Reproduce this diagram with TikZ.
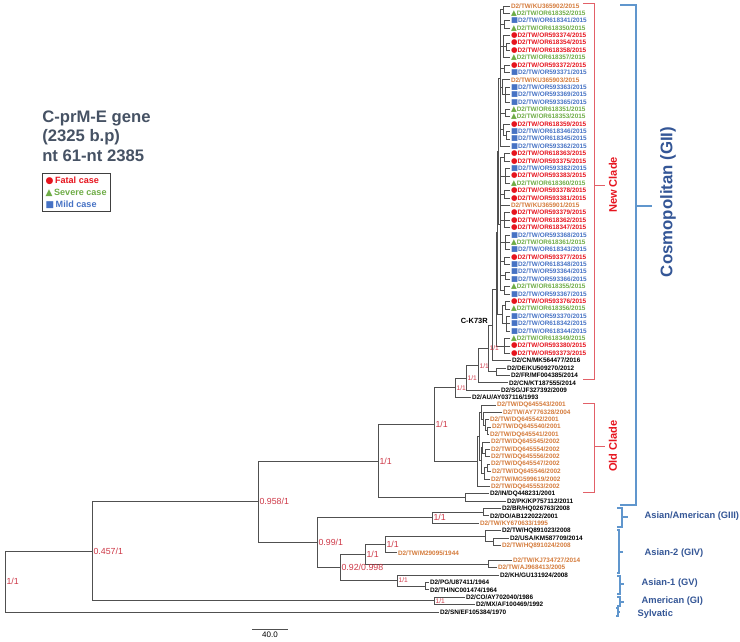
\documentclass[tikz,border=0pt]{standalone}
\usepackage{fontspec}
\setmainfont{Liberation Sans}
\newfontfamily\markfont{DejaVu Sans}
\usetikzlibrary{positioning}
\definecolor{branchgray}{RGB}{80,80,80}
\definecolor{suppred}{RGB}{205,55,70}
\definecolor{fatalred}{RGB}{230,20,30}
\definecolor{severegreen}{RGB}{110,172,70}
\definecolor{mildblue}{RGB}{70,114,196}
\definecolor{twbrown}{RGB}{212,122,58}
\definecolor{bracketred}{RGB}{226,96,104}
\definecolor{gtblue}{RGB}{52,86,150}
\definecolor{bracketblue}{RGB}{96,150,205}
\definecolor{titlegray}{RGB}{70,82,100}
\newcommand{\casemark}[1]{{\markfont\fontsize{5.6}{5}\selectfont#1}}
\tikzset{>=latex}

\begin{document}
\begin{tikzpicture}[x=0.75pt, y=-0.75pt,
		br/.style={draw=branchgray, line width=0.65pt},
		leaf/.style={anchor=west, inner sep=0pt, outer sep=0pt, xshift=0.8pt, font=\fontsize{4.8}{5}\selectfont\bfseries},
		blk/.style={leaf, text=black},
		tw/.style={leaf, text=twbrown},
		fatal/.style={leaf, text=fatalred, execute at begin node=\casemark{●}},
		severe/.style={leaf, text=severegreen, execute at begin node=\casemark{▲}},
		mild/.style={leaf, text=mildblue, execute at begin node=\casemark{■}},
		bsup/.style={anchor=west, inner sep=1pt, text=suppred, font=\fontsize{6.6}{7}\selectfont},
		ssup/.style={anchor=west, inner sep=1pt, text=suppred, font=\fontsize{5}{5}\selectfont},
		mut/.style={inner sep=0pt, font=\fontsize{5.6}{6}\selectfont\bfseries},
		gene/.style={inner sep=0pt, text=titlegray, text height=9pt, text depth=2.5pt, font=\fontsize{12.5}{14}\selectfont\bfseries},
		legendbox/.style={draw=black!75, line width=0.5pt, inner sep=2.5pt, align=left, font=\fontsize{6.8}{9}\selectfont\bfseries},
		redbracket/.style={draw=bracketred, line width=0.7pt},
		bluebracket/.style={draw=bracketblue, line width=1.3pt},
		nclade/.style={rotate=90, text=fatalred, font=\fontsize{8.3}{9}\selectfont\bfseries},
		gclade/.style={anchor=west, text=gtblue, font=\fontsize{7}{8}\selectfont\bfseries}
	]
	\useasboundingbox (0,0) rectangle (740,642);

	% tips of the new clade
	\foreach \i/\acc/\kind in {0/KU365902/tw, 1/OR618352/severe, 2/OR618341/mild, 3/OR618350/severe,
		4/OR593374/fatal, 5/OR618354/fatal, 6/OR618358/fatal, 7/OR618357/severe, 8/OR593372/fatal,
		9/OR593371/mild, 10/KU365903/tw, 11/OR593363/mild, 12/OR593369/mild, 13/OR593365/mild,
		14/OR618351/severe, 15/OR618353/severe, 16/OR618359/fatal, 17/OR618346/mild, 18/OR618345/mild,
		19/OR593362/mild, 20/OR618363/fatal, 21/OR593375/fatal, 22/OR593382/mild, 23/OR593383/fatal,
		24/OR618360/severe, 25/OR593378/fatal, 26/OR593381/fatal, 27/KU365901/tw, 28/OR593379/fatal,
		29/OR618362/fatal, 30/OR618347/fatal, 31/OR593368/mild, 32/OR618361/severe, 33/OR618343/mild,
		34/OR593377/fatal, 35/OR618348/mild, 36/OR593364/mild, 37/OR593366/mild, 38/OR618355/severe,
		39/OR593367/mild, 40/OR593376/fatal, 41/OR618356/severe, 42/OR593370/mild, 43/OR618342/mild,
		44/OR618344/mild, 45/OR618349/severe, 46/OR593380/fatal, 47/OR593373/fatal}{
		\coordinate (e\i) at (510,{6+7.39*\i});
		\node[\kind] (t\i) at (e\i) {D2/TW/\acc/2015};
	}

	% the other tips
	\foreach \i/\tx/\lab/\kind in {48/512/{D2/CN/MK564477/2016}/blk, 49/507/{D2/DE/KU509270/2012}/blk,
		50/511/{D2/FR/MF004385/2014}/blk, 51/509/{D2/CN/KT187555/2014}/blk, 52/501/{D2/SG/JF327392/2009}/blk,
		53/472/{D2/AU/AY037116/1993}/blk, 54/497/{D2/TW/DQ645543/2001}/tw, 55/503/{D2/TW/AY776328/2004}/tw,
		56/490/{D2/TW/DQ645542/2001}/tw, 57/492/{D2/TW/DQ645540/2001}/tw, 58/490/{D2/TW/DQ645541/2001}/tw,
		59/491/{D2/TW/DQ645545/2002}/tw, 60/491/{D2/TW/DQ645554/2002}/tw, 61/491/{D2/TW/DQ645556/2002}/tw,
		62/491/{D2/TW/DQ645547/2002}/tw, 63/492/{D2/TW/DQ645546/2002}/tw, 64/491/{D2/TW/MG599619/2002}/tw,
		65/491/{D2/TW/DQ645553/2002}/tw, 66/490/{D2/IN/DQ448231/2001}/blk, 67/507/{D2/PK/KP757112/2011}/blk,
		68/502/{D2/BR/HQ026763/2008}/blk, 69/490/{D2/DO/AB122022/2001}/blk, 70/480/{D2/TW/KY670633/1995}/tw,
		71/502/{D2/TW/HQ891023/2008}/blk, 72/510/{D2/USA/KM587709/2014}/blk, 73/502/{D2/TW/HQ891024/2008}/tw,
		74/398/{D2/TW/M29095/1944}/tw, 75/513/{D2/TW/KJ734727/2014}/tw, 76/498/{D2/TW/AJ968413/2005}/tw,
		77/500/{D2/KH/GU131924/2008}/blk, 78/430/{D2/PG/U87411/1964}/blk, 79/430/{D2/TH/NC001474/1964}/blk,
		80/466/{D2/CO/AY702040/1986}/blk, 81/476/{D2/MX/AF100469/1992}/blk, 82/440/{D2/SN/EF105384/1970}/blk}{
		\coordinate (e\i) at ({\tx-1},{6+7.39*\i});
		\node[\kind] (t\i) at (e\i) {\lab};
	}

	% internal nodes
	\foreach \n/\xx/\yy in {g1/503/9.7, g2/504/24.5, h3/506/46.6, g3/503/46.7, g4/504/68.8, h5/505/94.7,
		g5/502/87.3, g6/505/113.2, h7/506/135.3, g7/503/129.8, g9/504/157.5, g10/505/176.0, g11/504/194.5,
		g13/504/220.3, g14/505/242.5, g15/504/261.0, g16/505/275.7, g17/504/290.5, h18a/505/305.3,
		h18b/506/323.8, g18/502/314.6, g19/504/346.0, r1/500/78.05, r2/500/224.0, q/498.5/151.0,
		p/497.5/232.8, nc/496.5/289.4, mk/492/325.05, defr/496/371.8, cnx/488/348.4, cnkt/478/365.7,
		sg/466/378.0, au/455/387.9, o1d/487/430.9, o1c/485/425.4, o1b/483/419.0, o1/481/412.0,
		o2b/485/453.1, o2/482/447.6, o3a/487/467.9, o3/484/473.5, omid/481/460.6, otop/479/436.3,
		old/477/461.4, cosa/434/424.7, inpk/465/497.4, cosmo/378/461.1, brdo/483/512.2, asam/432/517.8,
		usa/493/541.8, hq/485/536.3, m29/385/544.6, kjaj/488/564.0, asia2/365/554.3, pgth/425/586.1,
		asia1/397/580.6, a12/340/567.4, asgrp/317/542.6, gii3/258/501.8, coam/434/600.9, aa/92/551.4,
		root/5/581.7}
		\coordinate (\n) at (\xx,\yy);

	% branches
	\foreach \up/\kids in {g1/{e0,e1}, g2/{e2,e3}, h3/{e5,e6}, g3/{e4,h3,e7}, g4/{e8,e9}, h5/{e11,e12,e13},
		g5/{e10,h5}, g6/{e14,e15}, h7/{e17,e18}, g7/{e16,h7}, g9/{e20,e21}, g10/{e22,e23,e24},
		g11/{e25,e26}, g13/{e28,e29,e30}, g14/{e31,e32,e33}, g15/{e34,e35}, g16/{e36,e37}, g17/{e38,e39},
		h18a/{e40,e41}, h18b/{e42,e43,e44}, g18/{h18a,h18b}, g19/{e45,e46,e47},
		r1/{g1,g2,g3,g4,g5,g6,g7,e19}, r2/{g9,g10,g11,e27,g13,g14,g15,g16,g17}, q/{r1,r2}, p/{q,g18},
		nc/{p,g19}, mk/{nc,e48}, defr/{e49,e50}, cnx/{mk,defr}, cnkt/{cnx,e51}, sg/{cnkt,e52}, au/{sg,e53},
		o1d/{e57,e58}, o1c/{e56,o1d}, o1b/{e55,o1c}, o1/{e54,o1b}, o2b/{e60,e61}, o2/{e59,o2b},
		o3a/{e62,e63}, o3/{o3a,e64}, omid/{o2,o3}, otop/{o1,omid}, old/{otop,e65}, cosa/{au,old},
		inpk/{e66,e67}, cosmo/{cosa,inpk}, brdo/{e68,e69}, asam/{brdo,e70}, usa/{e72,e73}, hq/{e71,usa},
		m29/{hq,e74}, kjaj/{e75,e76}, asia2/{m29,kjaj}, pgth/{e78,e79}, asia1/{e77,pgth},
		a12/{asia2,asia1}, asgrp/{asam,a12}, gii3/{cosmo,asgrp}, coam/{e80,e81}, aa/{gii3,coam},
		root/{aa,e82}}
		\foreach \kid in \kids
			\draw[br] (\up) |- (\kid);

	% support values
	\foreach \n/\s/\sty in {root/{1/1}/bsup, aa/{0.457/1}/bsup, gii3/{0.958/1}/bsup, asgrp/{0.99/1}/bsup,
		a12/{0.92/0.998}/bsup, asia2/{1/1}/bsup, m29/{1/1}/bsup, asia1/{1/1}/ssup, coam/{1/1}/ssup,
		asam/{1/1}/bsup, cosmo/{1/1}/bsup, cosa/{1/1}/bsup, au/{1/1}/ssup, sg/{1/1}/ssup,
		cnkt/{1/1}/ssup, cnx/{1/1}/ssup}
		\node[\sty] (s\n) at (\n) {\s};

	\node[mut, above left=1pt and 3pt of mk] (k73r) {C-K73R};

	% scale bar
	\coordinate (sbl) at (252,629);
	\coordinate (sbr) at (288,629);
	\draw[br] (sbl) -- (sbr) node[midway, below=1.5pt, inner sep=0pt, font=\fontsize{6}{6}\selectfont] (sbtext) {40.0};

	% legend
	\node[gene, anchor=west] (gene) at (42,118) {C-prM-E gene};
	\node[gene, below=2.75pt of gene.south west, anchor=north west] (bp) {(2325 b.p)};
	\node[gene, below=2.75pt of bp.south west, anchor=north west] (nt) {nt 61-nt 2385};
	\node[legendbox, below=6pt of nt.south west, anchor=north west] (legend) {%
		\textcolor{fatalred}{{\markfont ●}\,Fatal case}\\
		\textcolor{severegreen}{{\markfont ▲}\,Severe case}\\
		\textcolor{mildblue}{{\markfont ■}\,Mild case}};

	% clade brackets
	\draw[redbracket] (583,3) -| (594,379) -- (583,379);
	\draw[redbracket] (594,185) -- (605,185);
	\node[nclade] (newclade) at (613,185) {New Clade};
	\draw[redbracket] (583,403) -| (594,492) -- (583,492);
	\draw[redbracket] (594,446) -- (605,446);
	\node[nclade] (oldclade) at (613,446) {Old Clade};

	\draw[bluebracket] (620,5) -| (636,505) -- (620,505);
	\draw[bluebracket] (636,206) -- (652,206);
	\node[rotate=90, text=gtblue, font=\fontsize{12.6}{13}\selectfont\bfseries] (gii) at (668,202) {Cosmopolitan (GII)};

	\draw[bluebracket] (617,508) -| (622,527) -- (617,527);
	\draw[bluebracket] (622,517) -- (628,517);
	\node[gclade] (giii) at (640,516) {Asian/American (GIII)};
	\draw[bluebracket] (617,530) -| (619,573) -- (617,573);
	\draw[bluebracket] (619,552) -- (623,552);
	\node[gclade] (giv) at (640,553) {Asian-2 (GIV)};
	\draw[bluebracket] (617,576) -| (620,594) -- (617,594);
	\draw[bluebracket] (620,584) -- (624,584);
	\node[gclade] (gv) at (637,583) {Asian-1 (GV)};
	\draw[bluebracket] (617,597) -| (620,606) -- (617,606);
	\draw[bluebracket] (620,602) -- (624,602);
	\node[gclade] (gi) at (637,601) {American (GI)};
	\draw[bluebracket] (616,608) -| (618,616) -- (616,616);
	\draw[bluebracket] (618,612) -- (620,612);
	\node[gclade] (sylv) at (633,614) {Sylvatic};
\end{tikzpicture}
\end{document}
